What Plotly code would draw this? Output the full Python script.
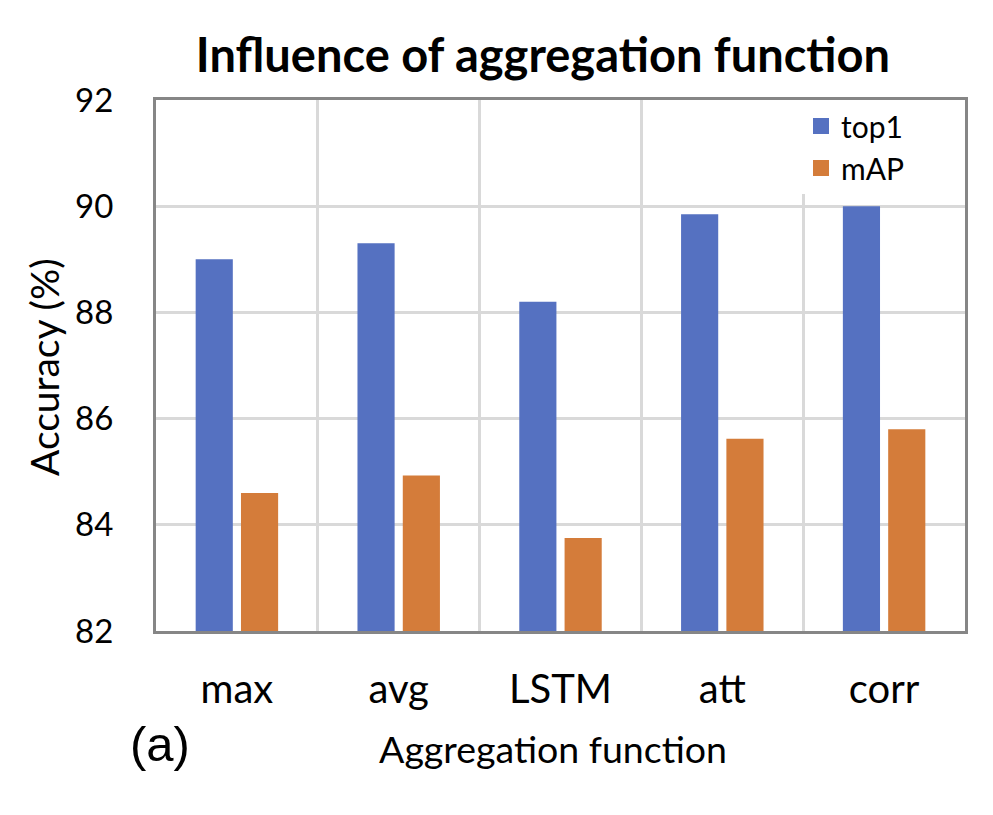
import plotly.graph_objects as go

categories = ["max", "avg", "LSTM", "att", "corr"]
top1 = [89.0, 89.3, 88.2, 89.85, 90.0]
mAP = [84.6, 84.93, 83.75, 85.62, 85.8]
y_ticks = [82, 84, 86, 88, 90, 92]
series_names = ["top1", "mAP"]

BLUE = "#5571C1"
ORANGE = "#D47C3A"
FONT = "Lato"

fig = go.Figure()
for name, vals, col in zip(series_names, [top1, mAP], [BLUE, ORANGE]):
    fig.add_trace(go.Bar(name=name, x=categories, y=vals, marker_color=col, marker_line_width=0,
                         legendgroup=name, showlegend=False))
# legend entries (larger square swatches than the default bar legend symbol)
for name, col in zip(series_names, [BLUE, ORANGE]):
    fig.add_trace(go.Scatter(name=name, x=[None], y=[None], mode="markers", legendgroup=name,
                             marker=dict(symbol="square", size=16, color=col, line=dict(width=0)),
                             showlegend=True, hoverinfo="skip"))

W, H = 993, 815
L, R, T, B = 148, 36, 92, 192
PW, PH = W - L - R, H - T - B

fig.update_layout(
    width=W, height=H,
    margin=dict(l=L, r=R, t=T, b=B, pad=0, autoexpand=False),
    paper_bgcolor="white", plot_bgcolor="white",
    barmode="group", bargap=0.44, bargroupgap=0.18,
    font=dict(family=FONT, color="black", size=38),
    title=dict(text="<b>Influence of aggregation function</b>", font=dict(family=FONT, size=47, color="black"),
               xref="container", yref="container", x=535 / W, y=1 - 48 / H,
               xanchor="center", yanchor="middle"),
    showlegend=True,
    legend=dict(x=(793 - L) / PW, y=1.0, xanchor="left", yanchor="top", bgcolor="white",
                font=dict(family=FONT, size=30, color="black"), tracegroupgap=0,
                itemwidth=30, itemsizing="trace"),
)

fig.update_xaxes(
    type="category", tickson="boundaries", showgrid=True, gridcolor="#D9D9D9", gridwidth=3,
    showline=True, mirror=True, linecolor="#868686", linewidth=3, ticks="",
    tickfont=dict(family=FONT, size=40), ticklabelstandoff=21,
)
fig.update_yaxes(
    range=[82, 92], tickvals=y_ticks, showgrid=True, gridcolor="#D9D9D9", gridwidth=3,
    showline=True, mirror=True, linecolor="#868686", linewidth=3, ticks="",
    tickfont=dict(family=FONT, size=33), ticklabelstandoff=33, zeroline=False,
)

fig.add_annotation(text="Accuracy (%)", xref="paper", yref="paper", x=-(L - 36) / PW, y=(H - B - 359) / PH,
                   textangle=-90, showarrow=False, font=dict(family=FONT, size=39, color="black"),
                   xanchor="center", yanchor="middle")
fig.add_annotation(text="Aggregation function", xref="paper", yref="paper", x=(545 - L) / PW,
                   y=-(740 - (H - B)) / PH, showarrow=False,
                   font=dict(family=FONT, size=37.5, color="black"), xanchor="center", yanchor="middle")
fig.add_annotation(text="(a)", xref="paper", yref="paper", x=-(L - 152) / PW,
                   y=-(736 - (H - B)) / PH, showarrow=False,
                   font=dict(family="Liberation Sans", size=49, color="black"), xanchor="center", yanchor="middle")

fig.write_html("out.html")
